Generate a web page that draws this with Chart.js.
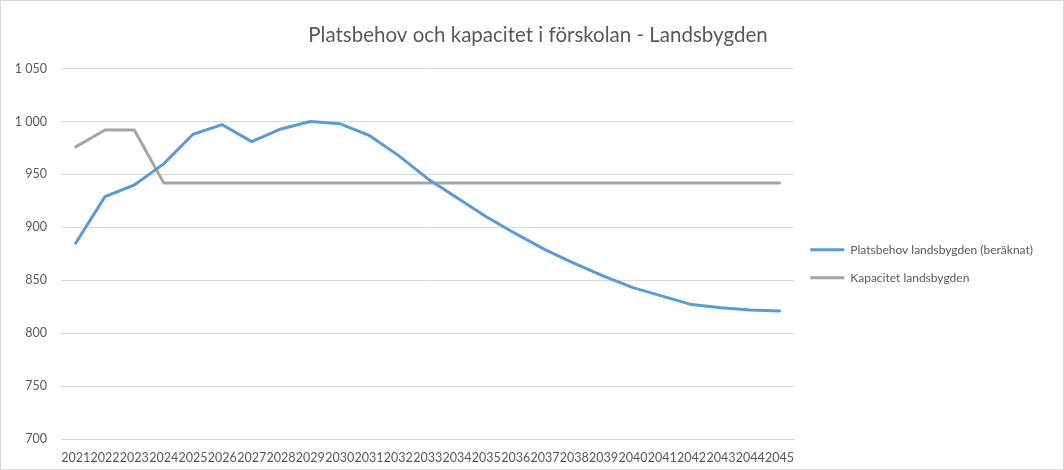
<!DOCTYPE html>
<html>
<head>
<meta charset="utf-8">
<script src="https://cdn.jsdelivr.net/npm/chart.js@4/dist/chart.umd.min.js"></script>
<style>
    html, body { margin: 0; padding: 0; background: #fff; }
    #wrap { position: relative; width: 1062px; height: 468px; border: 1px solid #d9d9d9; }
</style>
</head>
<body>
<div id="wrap"><canvas id="platsChart"></canvas></div>
<script>
// Årtal på x-axeln
const years = ['2021', '2022', '2023', '2024', '2025', '2026', '2027', '2028', '2029', '2030',
    '2031', '2032', '2033', '2034', '2035', '2036', '2037', '2038', '2039', '2040',
    '2041', '2042', '2043', '2044', '2045'];

// Platsbehov landsbygden (beräknat)
const platsbehov = [885, 929, 940, 960, 988, 997, 981, 993, 1000, 998,
    987, 968, 946, 928, 910, 894, 879, 866, 854, 843,
    835, 827, 824, 822, 821];

// Kapacitet landsbygden
const kapacitet = [976, 992, 992, 942, 942, 942, 942, 942, 942, 942,
    942, 942, 942, 942, 942, 942, 942, 942, 942, 942,
    942, 942, 942, 942, 942];

const yMin = 700;
const yMax = 1050;
const yStep = 50;

const textColor = '#595959';
const fontFamily = 'Lato, "Liberation Sans", sans-serif';

function formatTick(v) {
    // svensk tusentalsavgränsare med mellanslag
    return String(v).replace(/\B(?=(\d{3})+(?!\d))/g, ' ');
}

// flyttar rubriken lite åt höger (Excel centrerar över hela diagrammet)
const titleShift = {
    id: 'titleShift',
    afterLayout: function(chart) {
        if (chart.titleBlock) {
            chart.titleBlock.left += 32;
        }
    }
};

document.addEventListener('DOMContentLoaded', function() {
    const ctx = document.getElementById('platsChart');

    new Chart(ctx, {
        type: 'line',
        data: {
            labels: years,
            datasets: [{
                label: 'Platsbehov landsbygden (beräknat)',
                data: platsbehov,
                borderColor: '#5b9bd5',
                backgroundColor: '#5b9bd5',
                borderWidth: 3,
                pointRadius: 0,
                tension: 0,
                borderCapStyle: 'round',
                borderJoinStyle: 'round'
            }, {
                label: 'Kapacitet landsbygden',
                data: kapacitet,
                borderColor: '#a5a5a5',
                backgroundColor: '#a5a5a5',
                borderWidth: 3,
                pointRadius: 0,
                tension: 0,
                borderCapStyle: 'round',
                borderJoinStyle: 'round'
            }]
        },
        plugins: [titleShift],
        options: {
            responsive: true,
            maintainAspectRatio: false,
            animation: false,
            layout: {
                padding: { left: 0, right: 20, top: 0, bottom: 0 }
            },
            plugins: {
                title: {
                    display: true,
                    text: 'Platsbehov och kapacitet i förskolan - Landsbygden',
                    color: textColor,
                    font: { family: fontFamily, size: 20.5, weight: 'normal' },
                    padding: { top: 22, bottom: 21 }
                },
                legend: {
                    position: 'right',
                    align: 'center',
                    title: {
                        display: true,
                        text: '',
                        font: { size: 12 },
                        padding: { top: 43, bottom: 0 }
                    },
                    labels: {
                        color: textColor,
                        font: { family: fontFamily, size: 12 },
                        usePointStyle: true,
                        pointStyle: 'line',
                        pointStyleWidth: 34,
                        boxHeight: 12,
                        padding: 16
                    }
                },
                tooltip: { enabled: false }
            },
            scales: {
                x: {
                    offset: true,
                    grid: { display: false, drawTicks: false },
                    border: { display: true, color: '#d9d9d9' },
                    ticks: {
                        color: textColor,
                        font: { family: fontFamily, size: 12.5 },
                        autoSkip: false,
                        maxRotation: 0,
                        minRotation: 0,
                        padding: 11
                    },
                    afterFit: function(scale) {
                        scale.height = 30;
                    }
                },
                y: {
                    min: yMin,
                    max: yMax,
                    grid: { color: '#d9d9d9', drawTicks: false },
                    border: { display: false },
                    ticks: {
                        stepSize: yStep,
                        color: textColor,
                        font: { family: fontFamily, size: 12.5 },
                        padding: 14,
                        callback: function(v) { return formatTick(v); }
                    },
                    afterFit: function(scale) {
                        scale.width = 60;
                    }
                }
            }
        }
    });
});
</script>
</body>
</html>
